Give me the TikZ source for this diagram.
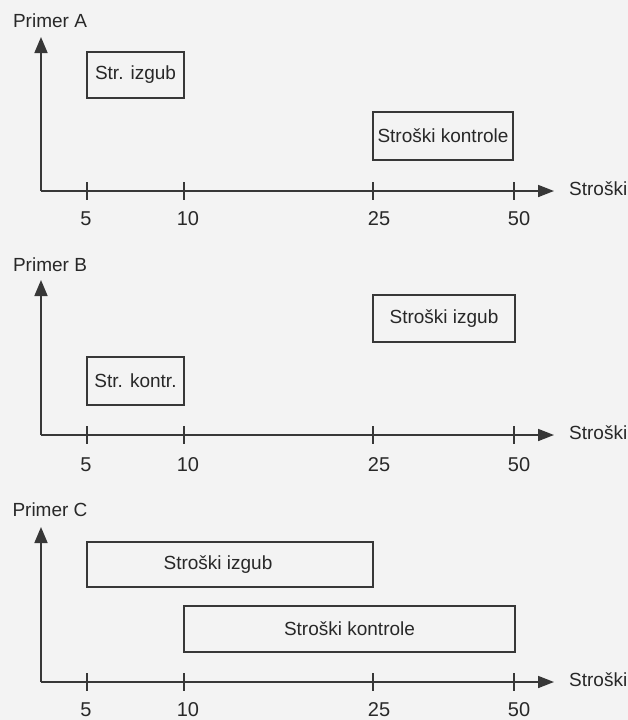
\documentclass[tikz,border=0pt]{standalone}
\usepackage{fontspec}
\setmainfont{Liberation Sans}
\usetikzlibrary{arrows.meta}
\definecolor{ink}{RGB}{55,55,55}
\definecolor{txt}{RGB}{40,40,40}
\definecolor{bg}{RGB}{243,243,243}
\tikzset{
  axisline/.style={draw=ink, line width=1.7pt},
  yarrow/.style={axisline, -{Triangle[length=16pt,width=13pt]}},
  xarrow/.style={axisline, -{Triangle[length=16pt,width=12pt]}},
  tick/.style={draw=ink, line width=1.3pt},
  box/.style={draw=ink, line width=1.3pt, fill=none, inner sep=0pt, rectangle, text=txt,
    font=\fontsize{19}{22}\selectfont},
  lbl/.style={text=txt, inner sep=0pt, font=\fontsize{19}{22}\selectfont},
  num/.style={text=txt, inner sep=0pt, font=\fontsize{20}{22}\selectfont},
}
\begin{document}
\begin{tikzpicture}[x=1pt,y=-1pt]
\fill[bg] (0,0) rectangle (628,720);
\useasboundingbox (0,0) rectangle (628,720);

% ---------- Panel A ----------
\coordinate (oA) at (41,191);
\coordinate (yA) at (41,37);
\coordinate (xA) at (554,191);
\draw[yarrow] (oA) -- (yA);
\draw[xarrow] (oA) -- (xA);
\node[lbl] (pA) at (50,21) {Primer A};
\node[lbl, anchor=west] (sA) at (569,189) {Stroški};
\foreach \t/\lx/\n in {87/86/5,184/188/10,373/379/25,514/519/50}{
  \draw[tick] (\t,182) -- (\t,200);
  \node[num] (tA\n) at (\lx,219) {\n};
}
\node[box, minimum width=97pt, minimum height=46pt] (izgA) at (135.5,75) {Str. izgub};
\node[box, minimum width=140pt, minimum height=48pt] (konA) at (443,136) {Stroški kontrole};

% ---------- Panel B ----------
\coordinate (oB) at (41,435);
\coordinate (yB) at (41,280);
\coordinate (xB) at (554,435);
\draw[yarrow] (oB) -- (yB);
\draw[xarrow] (oB) -- (xB);
\node[lbl] (pB) at (50,265) {Primer B};
\node[lbl, anchor=west] (sB) at (569,433) {Stroški};
\foreach \t/\lx/\n in {87/86/5,184/188/10,373/379/25,514/519/50}{
  \draw[tick] (\t,426) -- (\t,444);
  \node[num] (tB\n) at (\lx,465) {\n};
}
\node[box, minimum width=97pt, minimum height=48pt] (konB) at (135.5,381) {Str. kontr.};
\node[box, minimum width=142pt, minimum height=47pt] (izgB) at (444,318.5) {Stroški izgub};

% ---------- Panel C ----------
\coordinate (oC) at (41,682);
\coordinate (yC) at (41,527);
\coordinate (xC) at (554,682);
\draw[yarrow] (oC) -- (yC);
\draw[xarrow] (oC) -- (xC);
\node[lbl] (pC) at (50,510) {Primer C};
\node[lbl, anchor=west] (sC) at (569,680) {Stroški};
\foreach \t/\lx/\n in {87/86/5,184/188/10,373/379/25,514/519/50}{
  \draw[tick] (\t,673) -- (\t,691);
  \node[num] (tC\n) at (\lx,710) {\n};
}
\node[box, minimum width=286pt, minimum height=45pt] (izgC) at (230,564.5) {};
\node[lbl] (izgCt) at (218,564.5) {Stroški izgub};
\node[box, minimum width=331pt, minimum height=46pt] (konC) at (349.5,629) {Stroški kontrole};
\end{tikzpicture}
\end{document}
